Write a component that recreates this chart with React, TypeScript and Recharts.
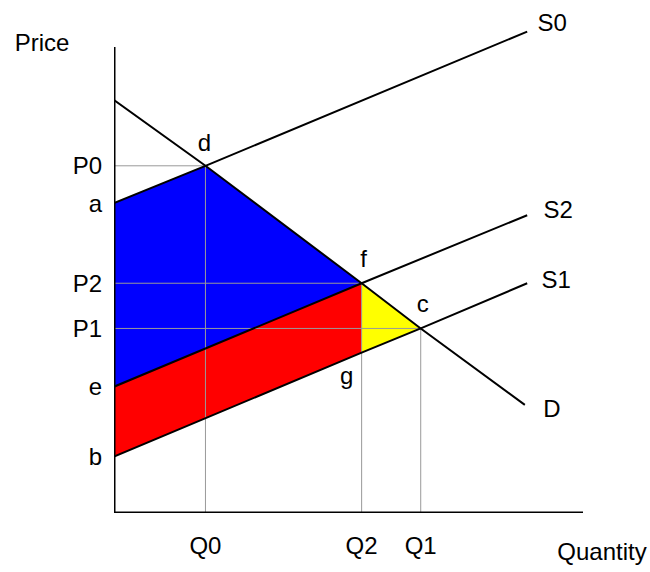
import { ComposedChart, Line, Area, XAxis, YAxis, ReferenceDot } from 'recharts';

// axis tick labels (quantity on x, price on y)
const quantityLabels = ['Q0', 'Q2', 'Q1'];
const quantityTicks = [19.5, 52.8, 65.4];
const priceLabels = ['P0', 'a', 'P2', 'P1', 'e', 'b'];
const priceTicks = [74.5, 66.5, 49.3, 39.6, 27.1, 12.1];

// curves: q = quantity, p = price
const supplyS0 = [
  { q: 0, p: 66.5 },
  { q: 19.5, p: 74.5 },
  { q: 88.1, p: 103.3 },
];
const supplyS2 = [
  { q: 0, p: 27.1 },
  { q: 52.8, p: 49.3 },
  { q: 88.1, p: 63.9 },
];
const supplyS1 = [
  { q: 0, p: 12.1 },
  { q: 52.8, p: 34.4 },
  { q: 65.4, p: 39.6 },
  { q: 88.1, p: 49.3 },
];
const demandD = [
  { q: 0, p: 88.6 },
  { q: 19.5, p: 74.5 },
  { q: 52.8, p: 49.3 },
  { q: 65.4, p: 39.6 },
  { q: 87.6, p: 23.2 },
];

// shaded regions as [low, high] price ranges
const blueArea = [
  { q: 0, range: [27.1, 66.5] },
  { q: 19.5, range: [35.2, 74.5] },
  { q: 52.8, range: [49.3, 49.3] },
];
const redArea = [
  { q: 0, range: [12.1, 27.1] },
  { q: 52.8, range: [34.4, 49.3] },
];
const yellowArea = [
  { q: 52.8, range: [34.4, 49.3] },
  { q: 65.4, range: [39.6, 39.6] },
];

// point names
const pointNames = ['d', 'f', 'c', 'g'];
const pointQ = [19.5, 52.8, 65.4, 52.8];
const pointP = [74.5, 49.3, 39.6, 34.4];

const curveNames = ['S0', 'S2', 'S1', 'D'];
const curves = [supplyS0, supplyS2, supplyS1, demandD];

const FONT = 'Arial, "Liberation Sans", sans-serif';

// text offsets from the anchor point, in pixels
const labelOffset: Record<string, [number, number]> = {
  d: [-1, -15],
  f: [2, -16],
  c: [2, -16],
  g: [-15, 31],
  S0: [25, -1],
  S2: [31, 3],
  S1: [29, 5],
  D: [27, 12],
  Price: [-72, 4],
  Quantity: [19, 47],
};

const guides = [0, 1, 2].map((i) => {
  const q = quantityTicks[i];
  const p = priceTicks[[0, 2, 3][i]];
  return [
    { q: 0, p },
    { q, p },
    { q, p: 0 },
  ];
});

const axisFrame = [
  { q: 0, p: 100 },
  { q: 0, p: 0 },
  { q: 100, p: 0 },
];

const TextLabel = (props: any) => {
  const { viewBox, text } = props;
  const [dx, dy] = labelOffset[text] || [0, 0];
  return (
    <text
      x={viewBox.x + dx}
      y={viewBox.y + dy}
      textAnchor="middle"
      fontFamily={FONT}
      fontSize={24}
      fill="#000"
    >
      {text}
    </text>
  );
};

export default function App() {
  return (
    <div style={{ position: 'absolute', left: 0, top: 0, background: '#fff' }}>
      <ComposedChart width={650} height={572} margin={{ top: 19, right: 67, bottom: 0, left: 0 }}>
        <XAxis
          type="number"
          dataKey="q"
          domain={[0, 100]}
          allowDataOverflow
          ticks={quantityTicks}
          tickFormatter={(v: number) => quantityLabels[quantityTicks.indexOf(v)]}
          axisLine={false}
          tickLine={false}
          tickSize={0}
          tickMargin={24}
          height={59}
          tick={{ fill: '#000', fontSize: 24, fontFamily: FONT }}
          interval={0}
        />
        <YAxis
          type="number"
          dataKey="p"
          domain={[0, 106]}
          allowDataOverflow
          ticks={priceTicks}
          tickFormatter={(v: number) => priceLabels[priceTicks.indexOf(v)]}
          axisLine={false}
          tickLine={false}
          tickSize={0}
          tickMargin={12}
          width={114}
          tick={{ fill: '#000', fontSize: 24, fontFamily: FONT }}
          interval={0}
        />

        <Area data={blueArea} dataKey="range" type="linear" fill="#0000ff" fillOpacity={1} stroke="none" isAnimationActive={false} />
        <Area data={redArea} dataKey="range" type="linear" fill="#ff0000" fillOpacity={1} stroke="none" isAnimationActive={false} />
        <Area data={yellowArea} dataKey="range" type="linear" fill="#ffff00" fillOpacity={1} stroke="none" isAnimationActive={false} />

        {guides.map((g, i) => (
          <Line key={'g' + i} data={g} dataKey="p" type="linear" stroke="#999999" strokeWidth={1} dot={false} activeDot={false} isAnimationActive={false} />
        ))}

        {curves.map((c, i) => (
          <Line key={curveNames[i]} data={c} dataKey="p" type="linear" stroke="#000" strokeWidth={2} dot={false} activeDot={false} isAnimationActive={false} />
        ))}

        <Line data={axisFrame} dataKey="p" type="linear" stroke="#000" strokeWidth={3} dot={false} activeDot={false} isAnimationActive={false} />

        {pointNames.map((n, i) => (
          <ReferenceDot key={n} x={pointQ[i]} y={pointP[i]} r={0} stroke="none" label={<TextLabel text={n} />} />
        ))}
        {curveNames.map((n, i) => {
          const last = curves[i][curves[i].length - 1];
          return <ReferenceDot key={'l' + n} x={last.q} y={last.p} r={0} stroke="none" label={<TextLabel text={n} />} />;
        })}
        <ReferenceDot x={0} y={100} r={0} stroke="none" label={<TextLabel text="Price" />} />
        <ReferenceDot x={100} y={0} r={0} stroke="none" label={<TextLabel text="Quantity" />} />
      </ComposedChart>
    </div>
  );
}
